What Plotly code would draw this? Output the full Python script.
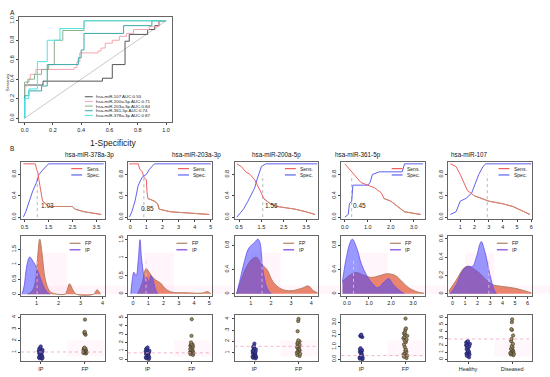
import plotly.graph_objects as go

W, H = 550, 377

# ---------------- DATA ----------------
roc_names = ["hsa-miR-107", "hsa-miR-200a-5p", "hsa-miR-203a-3p", "hsa-miR-361-5p", "hsa-miR-378a-3p"]
roc_auc = ["0.55", "0.71", "0.84", "0.74", "0.87"]
roc_fpr = [
    [0, 0, 0.13, 0.55, 0.62, 0.71, 0.74, 0.87, 0.92, 0.95, 1.0],
    [0, 0, 0.02, 0.04, 0.08, 0.35, 0.37, 0.39, 0.52, 0.54, 0.57, 0.62, 0.67, 0.72, 0.77, 0.88, 0.95, 1.0],
    [0, 0, 0.03, 0.07, 0.12, 0.17, 0.21, 0.27, 0.42, 1.0],
    [0, 0, 0.03, 0.12, 0.16, 0.38, 0.40, 0.42, 0.70, 0.90, 1.0],
    [0, 0, 0.03, 0.09, 0.16, 0.25, 0.42, 1.0],
]
roc_sens = [
    [0, 0.34, 0.38, 0.41, 0.55, 0.79, 0.86, 0.91, 0.95, 1.0, 1.0],
    [0, 0.33, 0.40, 0.45, 0.50, 0.52, 0.58, 0.67, 0.69, 0.72, 0.77, 0.80, 0.84, 0.87, 0.91, 0.94, 1.0, 1.0],
    [0, 0.37, 0.40, 0.45, 0.50, 0.55, 0.80, 0.90, 1.0, 1.0],
    [0, 0.23, 0.28, 0.33, 0.55, 0.62, 0.70, 0.87, 0.95, 1.0, 1.0],
    [0, 0.20, 0.30, 0.58, 0.80, 0.92, 1.0, 1.0],
]
roc_colors = ["#555555", "#F4A6B0", "#8DB08D", "#3AA8A8", "#4DE3E3"]

mirs = ["hsa-miR-378a-3p", "hsa-miR-203a-3p", "hsa-miR-200a-5p", "hsa-miR-361-5p", "hsa-miR-107"]
cutoffs = [1.03, 0.85, 1.56, 0.30, 2.90]
cutoff_labels = ["1.03", "0.85", "1.56", "0.45", ""]
cutoff_label_pos = [(1.45, 0.22), (1.05, 0.17), (1.95, 0.22), (0.65, 0.22), None]

# Row 1: sensitivity / specificity vs threshold
thr_sens_x = [
    [0.45, 0.95, 1.0, 1.05, 1.1, 1.15, 1.25, 1.4, 1.5, 2.5, 2.6, 3.0, 3.7],
    [-0.05, 0.5, 0.6, 0.75, 0.85, 1.0, 1.05, 1.1, 1.5, 1.7, 1.8, 2.5, 3.5, 4.9],
    [0.4, 0.6, 0.8, 1.0, 1.2, 1.4, 1.5, 1.6, 1.9, 2.2, 3.0, 3.5, 3.9],
    [0.0, 0.1, 0.3, 0.5, 0.7, 1.0, 1.3, 1.6, 1.7, 2.0, 2.3, 2.6, 3.3],
    [0.3, 0.7, 1.0, 1.3, 1.5, 2.0, 2.5, 3.0, 4.0, 4.7, 5.5, 5.9],
]
thr_sens_y = [
    [1.0, 1.0, 0.9, 0.85, 0.7, 0.55, 0.3, 0.25, 0.2, 0.2, 0.15, 0.1, 0.05],
    [1.0, 1.0, 0.9, 0.85, 0.75, 0.7, 0.45, 0.35, 0.3, 0.25, 0.15, 0.1, 0.08, 0.05],
    [1.0, 0.95, 0.85, 0.8, 0.7, 0.55, 0.45, 0.35, 0.25, 0.2, 0.15, 0.1, 0.05],
    [1.0, 0.95, 0.85, 0.75, 0.65, 0.6, 0.55, 0.45, 0.35, 0.3, 0.2, 0.1, 0.05],
    [1.0, 0.95, 0.8, 0.6, 0.5, 0.4, 0.35, 0.3, 0.25, 0.2, 0.1, 0.05],
]
thr_spec_x = [
    [0.45, 0.55, 0.7, 0.85, 1.0, 1.1, 1.25, 1.4, 1.5, 3.8],
    [-0.05, 0.1, 0.3, 0.5, 0.75, 1.0, 1.2, 1.5, 5.0],
    [0.4, 0.5, 0.7, 0.9, 1.1, 1.2, 1.3, 1.45, 1.5, 1.7, 4.0],
    [0.0, 0.15, 0.2, 0.3, 0.35, 1.0, 1.1, 1.2, 1.5, 2.5, 2.6, 3.4],
    [0.3, 0.7, 1.0, 1.4, 1.8, 2.0, 2.3, 2.6, 2.8, 6.0],
]
thr_spec_y = [
    [0.0, 0.1, 0.3, 0.5, 0.65, 0.8, 0.88, 0.95, 1.0, 1.0],
    [0.0, 0.1, 0.3, 0.6, 0.75, 0.8, 0.9, 1.0, 1.0],
    [0.0, 0.05, 0.15, 0.3, 0.45, 0.55, 0.7, 0.9, 0.95, 1.0, 1.0],
    [0.0, 0.05, 0.25, 0.3, 0.6, 0.6, 0.65, 0.8, 0.85, 0.85, 1.0, 1.0],
    [0.05, 0.1, 0.3, 0.35, 0.45, 0.6, 0.8, 0.95, 1.0, 1.0],
]
row1_xrange = [[0.35, 3.85], [-0.15, 5.05], [0.3, 4.05], [-0.15, 3.5], [0.15, 6.05]]
row1_xticks = [[0.5, 1.5, 2.5, 3.5], [0, 1, 2, 3, 4, 5], [0.5, 1.5, 2.5, 3.5], [0.0, 1.0, 2.0, 3.0], [1, 2, 3, 4, 5, 6]]
row1_xticktext = [["0.5", "1.5", "2.5", "3.5"], ["0", "1", "2", "3", "4", "5"], ["0.5", "1.5", "2.5", "3.5"],
                  ["0.0", "1.0", "2.0", "3.0"], ["1", "2", "3", "4", "5", "6"]]

# Row 2: densities of FP and IP
dens_fp_x = [
    [0.6, 0.8, 0.95, 1.05, 1.15, 1.25, 1.4, 1.6, 1.8, 2.3, 2.4, 2.5, 2.65, 2.8, 3.6, 3.75, 3.9],
    [0.3, 0.6, 0.85, 1.05, 1.3, 1.6, 1.8, 2.1, 2.5, 3.5, 4.5, 4.9, 5.1],
    [0.3, 0.5, 0.8, 1.1, 1.3, 1.5, 1.8, 2.1, 2.5, 3.0, 3.6, 3.85, 4.1, 4.3],
    [-0.2, 0.1, 0.4, 0.8, 1.1, 1.5, 1.8, 2.2, 2.5, 2.8, 3.2, 3.5],
    [-0.3, 0.3, 0.9, 1.2, 1.6, 2.2, 2.7, 3.2, 4.0, 5.0, 5.8, 6.3],
]
dens_fp_y = [
    [0.0, 0.1, 0.4, 1.2, 1.85, 1.4, 0.5, 0.1, 0.02, 0.0, 0.15, 0.35, 0.15, 0.0, 0.0, 0.15, 0.0],
    [0.0, 0.3, 0.7, 0.6, 0.45, 0.35, 0.3, 0.15, 0.05, 0.03, 0.02, 0.06, 0.0],
    [0.0, 0.2, 0.45, 0.58, 0.6, 0.5, 0.4, 0.2, 0.08, 0.05, 0.1, 0.13, 0.05, 0.02],
    [0.2, 0.3, 0.35, 0.3, 0.27, 0.3, 0.33, 0.3, 0.2, 0.1, 0.03, 0.01],
    [0.03, 0.15, 0.28, 0.3, 0.28, 0.22, 0.15, 0.1, 0.08, 0.06, 0.03, 0.01],
]
dens_ip_x = [
    [0.35, 0.45, 0.55, 0.65, 0.7, 0.85, 1.0, 1.15, 1.3, 1.45, 1.6],
    [-0.15, -0.05, 0.05, 0.2, 0.35, 0.45, 0.55, 0.7, 0.8, 0.9, 1.05, 1.15, 1.3, 1.45, 1.6],
    [0.3, 0.45, 0.7, 0.9, 1.2, 1.35, 1.45, 1.6, 1.8, 2.0],
    [-0.2, -0.05, 0.15, 0.25, 0.45, 0.65, 0.9, 1.2, 1.4, 1.7, 1.9, 2.1, 2.4, 2.6],
    [-0.2, 0.3, 0.8, 1.2, 1.6, 1.9, 2.2, 2.3, 2.6, 3.0, 3.3, 3.5],
]
dens_ip_y = [
    [0.0, 0.3, 0.9, 1.2, 1.25, 1.1, 0.9, 0.6, 0.3, 0.1, 0.0],
    [0.0, 0.4, 0.6, 0.5, 1.0, 1.5, 1.0, 0.5, 0.3, 0.45, 0.3, 0.5, 0.4, 0.15, 0.0],
    [0.0, 0.2, 0.55, 0.75, 0.85, 0.9, 0.85, 0.4, 0.1, 0.0],
    [0.2, 0.55, 0.85, 0.9, 0.75, 0.5, 0.3, 0.15, 0.1, 0.2, 0.25, 0.15, 0.05, 0.0],
    [0.0, 0.1, 0.25, 0.3, 0.3, 0.4, 0.55, 0.57, 0.45, 0.2, 0.05, 0.0],
]
row2_xrange = [[0.3, 4.1], [-0.35, 5.15], [0.2, 4.35], [-0.25, 3.55], [-0.35, 6.35]]
row2_xticks = [[1, 2, 3, 4], [0, 1, 2, 3, 4, 5], [1, 2, 3, 4], [0.0, 1.0, 2.0, 3.0], [0, 1, 2, 3, 4, 5, 6]]
row2_xticktext = [["1", "2", "3", "4"], ["0", "1", "2", "3", "4", "5"], ["1", "2", "3", "4"],
                  ["0.0", "1.0", "2.0", "3.0"], ["0", "1", "2", "3", "4", "5", "6"]]
row2_yrange = [[-0.05, 1.95], [-0.05, 1.6], [-0.03, 0.95], [-0.03, 0.95], [-0.02, 0.63]]
row2_yticks = [[0.0, 0.5, 1.0, 1.5], [0.0, 0.5, 1.0, 1.5], [0.0, 0.4, 0.8], [0.0, 0.4, 0.8], [0.0, 0.2, 0.4, 0.6]]

# Row 3: strip charts
groups = [["IP", "FP"], ["IP", "FP"], ["IP", "FP"], ["IP", "FP"], ["Healthy", "Diseased"]]
strip_a = [
    [0.45, 0.5, 0.55, 0.6, 0.65, 0.7, 0.75, 0.8, 0.85, 0.9, 0.95, 1.0, 1.05, 1.1, 1.15, 1.2, 1.25, 1.3, 1.4, 1.5],
    [0.0, 0.1, 0.15, 0.2, 0.3, 0.35, 0.4, 0.5, 0.55, 0.6, 0.7, 0.75, 0.8, 0.9, 0.95, 1.0, 1.1, 1.2, 1.3, 1.4],
    [0.5, 0.55, 0.6, 0.65, 0.7, 0.75, 0.8, 0.85, 0.9, 0.95, 1.0, 1.05, 1.1, 1.15, 1.2, 1.3, 1.4, 1.5, 1.6, 1.8],
    [0.0, 0.05, 0.1, 0.15, 0.2, 0.25, 0.3, 0.45, 0.5, 0.6, 0.65, 0.7, 0.75, 0.8, 0.9, 1.8, 1.85, 1.9, 1.95, 2.0],
    [0.3, 0.5, 0.7, 0.8, 0.9, 1.0, 1.1, 1.2, 1.3, 1.5, 1.7, 1.8, 1.9, 2.0, 2.1, 2.2, 2.3, 2.4, 2.5, 2.6],
]
strip_b = [
    [0.9, 0.95, 1.0, 1.0, 1.05, 1.1, 1.1, 1.15, 1.2, 1.2, 1.25, 1.3, 1.3, 1.35, 1.4, 2.5, 2.6, 2.7, 2.75, 3.8],
    [0.5, 0.6, 0.7, 0.8, 0.85, 0.9, 1.0, 1.05, 1.1, 1.2, 1.3, 1.4, 1.5, 1.6, 1.7, 1.75, 1.8, 2.0, 2.8, 4.8],
    [0.7, 0.8, 0.9, 1.0, 1.1, 1.2, 1.25, 1.3, 1.4, 1.5, 1.55, 1.6, 1.7, 1.8, 1.9, 2.0, 2.1, 2.9, 3.8, 4.0],
    [0.1, 0.2, 0.3, 0.4, 0.5, 0.6, 0.7, 0.8, 1.0, 1.2, 1.4, 1.5, 1.6, 1.7, 1.8, 1.9, 2.0, 2.1, 2.2, 2.4, 2.5, 3.3],
    [0.6, 0.7, 0.8, 0.9, 1.0, 1.1, 1.2, 1.3, 1.4, 1.5, 1.7, 1.9, 2.2, 2.6, 2.9, 3.4, 4.2, 4.3, 5.3, 5.7],
]
row3_yrange = [[0.25, 4.15], [-0.25, 5.25], [0.25, 4.3], [-0.15, 3.55], [-0.25, 6.25]]
row3_yticks = [[1, 2, 3, 4], [0, 1, 2, 3, 4, 5], [1, 2, 3, 4], [0.0, 1.0, 2.0, 3.0], [0, 1, 2, 3, 4, 5, 6]]
row3_ytext = [["1", "2", "3", "4"], ["0", "1", "2", "3", "4", "5"], ["1", "2", "3", "4"],
              ["0.0", "1.0", "2.0", "3.0"], ["0", "1", "2", "3", "4", "5", "6"]]
row3_cut = [1.03, 0.75, 1.56, 0.30, 2.90]

# ---------------- LAYOUT HELPERS ----------------
FONT = "Liberation Sans, Arial, sans-serif"
fig = go.Figure()
layout = {}
shapes = []
annos = []
k_counter = [0]


def dx(l, r):
    return [l / W, r / W]


def dy(t, b):
    return [1 - b / H, 1 - t / H]


def axis_style(fs=5.5):
    return dict(showline=True, mirror=True, linecolor="#666666", linewidth=0.8,
                ticks="outside", ticklen=2, tickwidth=0.6, tickcolor="#444444",
                showgrid=False, zeroline=False, tickfont=dict(size=fs, family=FONT, color="#222222"),
                fixedrange=True)


def new_axes(l, r, t, b, xkw, ykw):
    k_counter[0] += 1
    k = k_counter[0]
    sx = "" if k == 1 else str(k)
    xa = axis_style(); xa.update(domain=dx(l, r), anchor="y" + sx); xa.update(xkw)
    ya = axis_style(); ya.update(domain=dy(t, b), anchor="x" + sx, tickangle=-90); ya.update(ykw)
    layout["xaxis" + sx] = xa
    layout["yaxis" + sx] = ya
    return "x" + sx, "y" + sx


def mini_legend(xr, yr, x0, labels, colors, ys=(0.86, 0.74)):
    for lab, col, yy in zip(labels, colors, ys):
        shapes.append(dict(type="line", xref=xr + " domain", yref=yr + " domain",
                           x0=x0, x1=x0 + 0.13, y0=yy, y1=yy, line=dict(color=col, width=1.2)))
        annos.append(dict(xref=xr + " domain", yref=yr + " domain", x=x0 + 0.16, y=yy,
                          text=lab, showarrow=False, xanchor="left", yanchor="middle",
                          font=dict(size=5, family=FONT, color="#222222")))


# ---------------- PANEL A ----------------
xa, ya = new_axes(19, 172, 15, 121,
                  dict(range=[-0.04, 1.04], tickvals=[0, 0.2, 0.4, 0.6, 0.8, 1.0],
                       ticktext=["0.0", "0.2", "0.4", "0.6", "0.8", "1.0"]),
                  dict(range=[-0.04, 1.04], tickvals=[0, 0.2, 0.4, 0.6, 0.8, 1.0],
                       ticktext=["0.0", "0.2", "0.4", "0.6", "0.8", "1.0"]))
fig.add_trace(go.Scatter(x=[0, 1], y=[0, 1], mode="lines", xaxis=xa, yaxis=ya,
                         line=dict(color="#BBBBBB", width=0.8), showlegend=False, hoverinfo="skip"))
for fx, sy, col in zip(roc_fpr, roc_sens, roc_colors):
    fig.add_trace(go.Scatter(x=fx, y=sy, mode="lines", xaxis=xa, yaxis=ya, line_shape="hv",
                             line=dict(color=col, width=1), showlegend=False))
for i, (nm, auc, col) in enumerate(zip(roc_names, roc_auc, roc_colors)):
    yy = 95.5 + i * 4.7
    shapes.append(dict(type="line", xref="paper", yref="paper", x0=85 / W, x1=93 / W,
                       y0=1 - yy / H, y1=1 - yy / H, line=dict(color=col, width=1)))
    annos.append(dict(xref="paper", yref="paper", x=94 / W, y=1 - yy / H, text=f"{nm} AUC:{auc}",
                      showarrow=False, xanchor="left", yanchor="middle",
                      font=dict(size=4.4, family=FONT, color="#222222")))
annos.append(dict(xref="paper", yref="paper", x=88 / W, y=1 - 142 / H, text="1-Specificity",
                  showarrow=False, font=dict(size=8.5, family=FONT, color="#222222")))
annos.append(dict(xref="paper", yref="paper", x=4 / W, y=1 - 70 / H, text="Sensitivity", textangle=-90,
                  showarrow=False, font=dict(size=3.8, family=FONT, color="#222222")))
annos.append(dict(xref="paper", yref="paper", x=8 / W, y=1 - 5 / H, text="A",
                  showarrow=False, font=dict(size=6.5, family=FONT, color="#222222")))
annos.append(dict(xref="paper", yref="paper", x=8 / W, y=1 - 148 / H, text="B",
                  showarrow=False, font=dict(size=6.5, family=FONT, color="#222222")))

# ---------------- PANEL B ----------------
LEFTS = [21, 128, 235, 342, 449]
BW = 84
R1 = (161, 219)
R2 = (236, 296)
R3 = (316, 362)
SENS_C = "#F06060"
SPEC_C = "#6060F0"
FP_C = "#B08060"
IP_C = "#8040E0"

for j in range(5):
    l = LEFTS[j]; r = l + BW
    annos.append(dict(xref="paper", yref="paper", x=(l + r) / 2 / W, y=1 - 154 / H, text=mirs[j],
                      showarrow=False, font=dict(size=6.3, family=FONT, color="#111111")))
    # Row 1
    xa, ya = new_axes(l, r, R1[0], R1[1],
                      dict(range=row1_xrange[j], tickvals=row1_xticks[j], ticktext=row1_xticktext[j]),
                      dict(range=[-0.04, 1.04], tickvals=[0.0, 0.4, 0.8], ticktext=["0.0", "0.4", "0.8"]))
    fig.add_trace(go.Scatter(x=[cutoffs[j], cutoffs[j]], y=[0, 0.8], mode="lines", xaxis=xa, yaxis=ya,
                             line=dict(color="#999999", width=0.7, dash="dot"), showlegend=False))
    fig.add_trace(go.Scatter(x=thr_spec_x[j], y=thr_spec_y[j], mode="lines", xaxis=xa, yaxis=ya,
                             line=dict(color=SPEC_C, width=1), showlegend=False))
    fig.add_trace(go.Scatter(x=thr_sens_x[j], y=thr_sens_y[j], mode="lines", xaxis=xa, yaxis=ya,
                             line=dict(color=SENS_C, width=1), showlegend=False))
    tail = [i for i, v in enumerate(thr_sens_y[j]) if v <= 0.4]
    fig.add_trace(go.Scatter(x=[thr_sens_x[j][i] for i in tail], y=[thr_sens_y[j][i] for i in tail],
                             mode="lines", xaxis=xa, yaxis=ya,
                             line=dict(color="#C98A70", width=1), showlegend=False))
    if cutoff_label_pos[j]:
        annos.append(dict(xref=xa, yref=ya, x=cutoff_label_pos[j][0], y=cutoff_label_pos[j][1],
                          text=cutoff_labels[j], showarrow=False,
                          font=dict(size=6.5, family=FONT, color="#222222")))
    mini_legend(xa, ya, 0.6, ["Sens.", "Spec."], [SENS_C, SPEC_C], ys=(0.88, 0.77))

    # Row 2
    xa, ya = new_axes(l, r, R2[0], R2[1],
                      dict(range=row2_xrange[j], tickvals=row2_xticks[j], ticktext=row2_xticktext[j]),
                      dict(range=row2_yrange[j], tickvals=row2_yticks[j]))
    shapes.append(dict(type="rect", xref=xa + " domain", yref=ya + " domain", x0=0.25, x1=1.25,
                       y0=0.03, y1=0.17, fillcolor="rgba(255,170,220,0.12)", line=dict(width=0), layer="below"))
    shapes.append(dict(type="rect", xref=xa + " domain", yref=ya + " domain", x0=0.2, x1=0.55,
                       y0=0.03, y1=0.72, fillcolor="rgba(255,170,220,0.12)", line=dict(width=0), layer="below"))
    fig.add_trace(go.Scatter(x=dens_fp_x[j], y=dens_fp_y[j], mode="lines", xaxis=xa, yaxis=ya,
                             fill="tozeroy", fillcolor="rgba(228,100,72,0.78)", line_shape="spline",
                             line=dict(color=FP_C, width=1), showlegend=False))
    fig.add_trace(go.Scatter(x=dens_ip_x[j], y=dens_ip_y[j], mode="lines", xaxis=xa, yaxis=ya,
                             fill="tozeroy", fillcolor="rgba(70,70,255,0.55)", line_shape="spline",
                             line=dict(color="#6A50E8", width=0.8), showlegend=False))
    yt = row2_yrange[j][1]
    fig.add_trace(go.Scatter(x=[cutoffs[j], cutoffs[j]], y=[0, yt * 0.6], mode="lines", xaxis=xa, yaxis=ya,
                             line=dict(color="#FFC0E0", width=0.8, dash="dot"), showlegend=False))
    mini_legend(xa, ya, 0.58, ["FP", "IP"], [FP_C, IP_C], ys=(0.88, 0.77))

    # Row 3
    xa, ya = new_axes(l, r, R3[0], R3[1],
                      dict(type="category", categoryorder="array", categoryarray=groups[j],
                           range=[-0.45, 1.45]),
                      dict(range=row3_yrange[j], tickvals=row3_yticks[j], ticktext=row3_ytext[j]))
    shapes.append(dict(type="rect", xref=xa + " domain", yref=ya + " domain", x0=0.55, x1=1.0,
                       y0=0.1, y1=0.45, fillcolor="rgba(255,190,225,0.12)", line=dict(width=0), layer="below"))
    shapes.append(dict(type="line", xref=xa + " domain", yref=ya, x0=0, x1=1,
                       y0=row3_cut[j], y1=row3_cut[j], line=dict(color="#F0A0C0", width=0.8, dash="dot")))
    fig.add_trace(go.Box(x=[groups[j][0]] * len(strip_a[j]), y=strip_a[j], xaxis=xa, yaxis=ya,
                         boxpoints="all", jitter=0.2, pointpos=0, fillcolor="rgba(0,0,0,0)",
                         line=dict(width=0, color="rgba(0,0,0,0)"), showlegend=False,
                         marker=dict(size=3.3, color="#4848B0", line=dict(color="#1A1A50", width=0.6))))
    fig.add_trace(go.Box(x=[groups[j][1]] * len(strip_b[j]), y=strip_b[j], xaxis=xa, yaxis=ya,
                         boxpoints="all", jitter=0.2, pointpos=0, fillcolor="rgba(0,0,0,0)",
                         line=dict(width=0, color="rgba(0,0,0,0)"), showlegend=False,
                         marker=dict(size=3.3, color="#9A8A60", line=dict(color="#3A3020", width=0.6))))

fig.update_layout(**layout)
fig.update_layout(width=W, height=H, margin=dict(l=0, r=0, t=0, b=0),
                  paper_bgcolor="white", plot_bgcolor="white", showlegend=False,
                  shapes=shapes, annotations=annos, font=dict(family=FONT))
fig.write_html("out.html", config={"displayModeBar": False},
               post_script="document.body.style.margin='0px';")
